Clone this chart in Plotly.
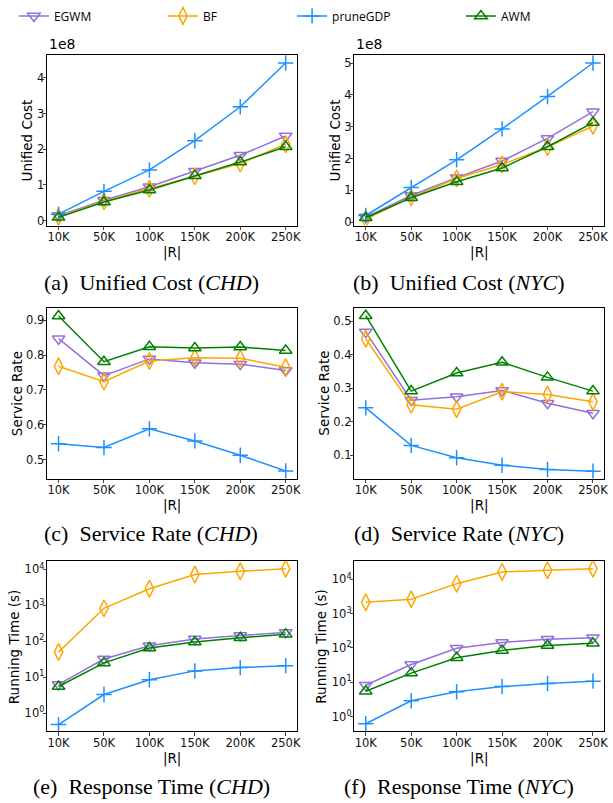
import plotly.graph_objects as go

W, H = 613, 803

# ---------------- data ----------------
r_labels = ["10K", "50K", "100K", "150K", "200K", "250K"]
methods = ["EGWM", "BF", "pruneGDP", "AWM"]

# Unified cost, CHD
egwm_cost_chd = [0.14e8, 0.57e8, 0.95e8, 1.38e8, 1.83e8, 2.37e8]
bf_cost_chd = [0.11e8, 0.54e8, 0.89e8, 1.24e8, 1.60e8, 2.14e8]
prune_cost_chd = [0.18e8, 0.82e8, 1.42e8, 2.24e8, 3.19e8, 4.42e8]
awm_cost_chd = [0.09e8, 0.52e8, 0.86e8, 1.26e8, 1.64e8, 2.07e8]

# Unified cost, NYC
egwm_cost_nyc = [0.16e8, 0.84e8, 1.40e8, 1.92e8, 2.63e8, 3.47e8]
bf_cost_nyc = [0.10e8, 0.78e8, 1.37e8, 1.81e8, 2.36e8, 3.02e8]
prune_cost_nyc = [0.21e8, 1.09e8, 1.96e8, 2.93e8, 3.95e8, 5.00e8]
awm_cost_nyc = [0.14e8, 0.77e8, 1.27e8, 1.70e8, 2.37e8, 3.13e8]

# Service rate, CHD
egwm_sr_chd = [0.847, 0.741, 0.789, 0.778, 0.774, 0.756]
bf_sr_chd = [0.768, 0.724, 0.783, 0.792, 0.791, 0.765]
prune_sr_chd = [0.546, 0.535, 0.589, 0.554, 0.513, 0.468]
awm_sr_chd = [0.912, 0.781, 0.824, 0.820, 0.823, 0.813]

# Service rate, NYC
egwm_sr_nyc = [0.468, 0.265, 0.275, 0.294, 0.256, 0.226]
bf_sr_nyc = [0.448, 0.251, 0.238, 0.290, 0.282, 0.260]
prune_sr_nyc = [0.242, 0.130, 0.093, 0.071, 0.058, 0.053]
awm_sr_nyc = [0.517, 0.292, 0.346, 0.378, 0.333, 0.292]

# Running time (s), CHD
egwm_rt_chd = [6.3, 32, 75, 115, 145, 175]
bf_rt_chd = [50, 830, 2900, 7200, 8900, 10500]
prune_rt_chd = [0.48, 3.3, 8.5, 15, 18.5, 21]
awm_rt_chd = [5.5, 25, 65, 95, 125, 158]

# Running time (s), NYC
egwm_rt_nyc = [8.2, 33, 98, 145, 180, 200]
bf_rt_nyc = [2150, 2650, 7500, 16500, 18500, 20500]
prune_rt_nyc = [0.62, 2.9, 5.3, 7.5, 9.2, 10.8]
awm_rt_nyc = [5.5, 18.5, 52, 85, 118, 138]

cost_scale = 1e8

captions = [
    "(a)  Unified Cost (<i>CHD</i>)", "(b)  Unified Cost (<i>NYC</i>)",
    "(c)  Service Rate (<i>CHD</i>)", "(d)  Service Rate (<i>NYC</i>)",
    "(e)  Response Time (<i>CHD</i>)", "(f)  Response Time (<i>NYC</i>)",
]
y_titles = ["Unified Cost", "Unified Cost", "Service Rate", "Service Rate",
            "Running Time (s)", "Running Time (s)"]

# ---------------- styles ----------------
colors = {"EGWM": "#9370DB", "BF": "#FFA500", "pruneGDP": "#1E90FF", "AWM": "#008000"}
symbols = {"EGWM": "triangle-down-open", "BF": "diamond-tall-open",
           "pruneGDP": "cross-thin-open", "AWM": "triangle-up-open"}
msize = {"EGWM": 11, "BF": 12, "pruneGDP": 11, "AWM": 11}

panels = [
    [egwm_cost_chd, bf_cost_chd, prune_cost_chd, awm_cost_chd],
    [egwm_cost_nyc, bf_cost_nyc, prune_cost_nyc, awm_cost_nyc],
    [egwm_sr_chd, bf_sr_chd, prune_sr_chd, awm_sr_chd],
    [egwm_sr_nyc, bf_sr_nyc, prune_sr_nyc, awm_sr_nyc],
    [egwm_rt_chd, bf_rt_chd, prune_rt_chd, awm_rt_chd],
    [egwm_rt_nyc, bf_rt_nyc, prune_rt_nyc, awm_rt_nyc],
]

# pixel boxes (left, right, top, bottom)
col_x = [(47.5, 299.0), (356.7, 608.3)]
row_y = [(55.0, 226.7), (309.5, 481.0), (564.0, 735.0)]

y_ranges = [
    [-0.14, 4.65], [-0.106, 5.26],
    [0.446, 0.935], [0.031, 0.540],
    [-0.507, 4.23], [-0.43, 4.53],
]
y_ticks = [
    [0, 1, 2, 3, 4], [0, 1, 2, 3, 4, 5],
    [0.5, 0.6, 0.7, 0.8, 0.9], [0.1, 0.2, 0.3, 0.4, 0.5],
    [1, 10, 100, 1000, 10000], [1, 10, 100, 1000, 10000],
]
y_title_x = [27.5, 337.5, 17.0, 326.5, 14.0, 323.5]

xs = list(range(len(r_labels)))
tick_font = dict(family="DejaVu Sans", size=11.5, color="#111111")

fig = go.Figure()
layout = dict(width=W, height=H, margin=dict(l=0, r=0, t=0, b=0),
              paper_bgcolor="white", plot_bgcolor="white", showlegend=True)
annotations = []

for p in range(6):
    r, c = divmod(p, 2)
    xl, xr = col_x[c]
    yt, yb = row_y[r]
    ax = "" if p == 0 else str(p + 1)
    xa = "xaxis" + ax
    ya = "yaxis" + ax
    is_cost = p < 2
    is_log = p >= 4
    for k, m in enumerate(methods):
        vals = panels[p][k]
        if is_cost:
            vals = [v / cost_scale for v in vals]
        leg = "legend" if k == 0 else "legend%d" % (k + 1)
        fig.add_trace(go.Scatter(
            x=xs, y=vals, mode="lines+markers", name=m,
            xaxis="x" + ax, yaxis="y" + ax,
            line=dict(color=colors[m], width=1.5),
            marker=dict(symbol=symbols[m], size=msize[m], color=colors[m],
                        line=dict(width=1.5, color=colors[m])),
            showlegend=(p == 0), legend=leg,
        ))
    layout[xa] = dict(
        domain=[xl / W, xr / W], anchor="y" + ax, range=[-0.25, 5.25],
        tickvals=xs, ticktext=r_labels, ticks="outside", ticklen=3.5, tickwidth=1,
        ticklabelstandoff=-3,
        showline=True, mirror=True, linecolor="black", linewidth=1,
        showgrid=False, zeroline=False, tickfont=tick_font,
        title=dict(text="|R|", font=dict(family="DejaVu Sans", size=13.5, color="black"),
                   standoff=2),
    )
    ydict = dict(
        domain=[1 - yb / H, 1 - yt / H], anchor="x" + ax,
        ticks="outside", ticklen=3.5, tickwidth=1, ticklabelstandoff=-4,
        showline=True, mirror=True, linecolor="black", linewidth=1,
        showgrid=False, zeroline=False, tickfont=tick_font,
        tickvals=y_ticks[p],
    )
    if is_log:
        ydict.update(type="log", range=y_ranges[p],
                     ticktext=["10<sup>%d</sup>" % e for e in range(5)])
    elif p in (2, 3):
        ydict.update(range=y_ranges[p], ticktext=["%.1f" % v for v in y_ticks[p]])
    else:
        ydict.update(range=y_ranges[p], ticktext=[str(v) for v in y_ticks[p]])
    layout[ya] = ydict

    # y title
    annotations.append(dict(
        text=y_titles[p], textangle=-90, showarrow=False,
        x=y_title_x[p] / W, y=1 - (yt + yb) / 2 / H,
        xref="paper", yref="paper", xanchor="center", yanchor="middle",
        font=dict(family="DejaVu Sans", size=13.5, color="black"),
    ))
    # offset text 1e8
    if is_cost:
        annotations.append(dict(
            text="1e8", showarrow=False, x=xl / W, y=1 - (yt - 1) / H,
            xref="paper", yref="paper", xanchor="left", yanchor="bottom",
            font=dict(family="DejaVu Sans", size=14, color="black"),
        ))
    # caption
    cap_y = [284, 536, 790][r]
    cap_x = [152, 462][c]
    annotations.append(dict(
        text=captions[p], showarrow=False, x=cap_x / W, y=1 - cap_y / H,
        xref="paper", yref="paper", xanchor="center", yanchor="middle",
        font=dict(family="Liberation Serif", size=22, color="black"),
    ))

layout["annotations"] = annotations

# legends: one per method, positioned individually
leg_x = [14, 164, 294, 464]
for k in range(4):
    key = "legend" if k == 0 else "legend%d" % (k + 1)
    layout[key] = dict(
        x=leg_x[k] / W, y=1 - 16 / H, xanchor="left", yanchor="middle",
        orientation="h", bgcolor="rgba(0,0,0,0)",
        font=dict(family="Open Sans", size=12, color="black"),
    )

fig.update_layout(**layout)
fig.write_html("out.html")
